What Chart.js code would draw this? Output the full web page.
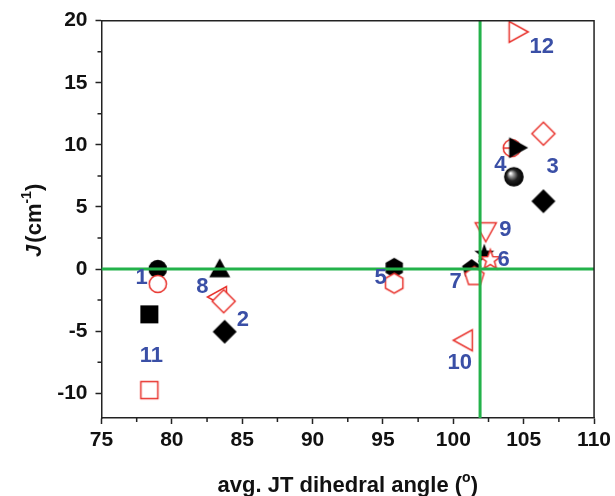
<!DOCTYPE html>
<html><head><meta charset="utf-8">
<script src="https://cdn.jsdelivr.net/npm/chart.js@4"></script>
<style>html,body{margin:0;padding:0;background:#fff}</style>
</head><body>
<canvas id="c" width="615" height="496" style="width:615px;height:496px;display:block"></canvas>
<script>
// ---- data ----
const xTicks = [75, 80, 85, 90, 95, 100, 105, 110];
const yTicks = [-10, -5, 0, 5, 10, 15, 20];
const xMinorTicks = [77.5, 82.5, 87.5, 92.5, 97.5, 102.5, 107.5];
const yMinorTicks = [-7.5, -2.5, 2.5, 7.5, 12.5, 17.5];

const blackIds   = ['1', '2', '3', '4', '4', '5', '6', '7', '8', '11'];
const blackX     = [79.0, 83.75, 106.4, 104.64, 104.3, 95.8, 102.2, 101.3, 83.4, 78.4];
const blackY     = [0.0, -5.05, 5.46, 9.77, 7.43, 0.1, 1.2, 0.0, 0.1, -3.65];
const blackShape = ['circle', 'diamond', 'diamond', 'triRight', 'ball', 'hexagon', 'star', 'pentagon', 'triUp', 'square'];

const redIds   = ['1', '2', '3', '4', '5', '6', '7', '8', '9', '10', '11', '12'];
const redX     = [79.0, 83.68, 106.4, 104.16, 95.8, 102.63, 101.5, 83.2, 102.3, 100.67, 78.4, 104.64];
const redY     = [-1.2, -2.6, 10.9, 9.74, -1.15, 0.72, -0.6, -2.25, 2.96, -5.74, -9.75, 19.1];
const redShape = ['circle', 'diamond', 'diamond', 'circlePlus', 'hexagon', 'star', 'pentagon', 'triLeft', 'triDown', 'triLeft', 'square', 'triRight'];

const labelText = ['1', '11', '8', '2', '5', '7', '6', '9', '10', '4', '3', '12'];
const labelX    = [77.85, 78.55, 82.17, 85.04, 94.84, 100.16, 103.58, 103.7, 100.45, 103.34, 107.05, 106.29];
const labelY    = [-0.72, -7.0, -1.43, -4.1, -0.72, -1.02, 0.72, 3.14, -7.6, 8.37, 8.24, 17.9];

const hLineX = [75, 110], hLineY = [0, 0];
const vLineX = [101.9, 101.9], vLineY = [-12, 20];

// ---- marker images ----
const RED = '#e8312b', BLACK = '#000', GREEN = '#23b24a', BLUE = '#3a4fa6';
function marker(shape, color, open) {
  const S = 30, c = document.createElement('canvas');
  c.width = S; c.height = S;
  const g = c.getContext('2d');
  g.translate(S / 2, S / 2);
  g.lineWidth = 1.5; g.strokeStyle = color; g.fillStyle = open ? '#fff' : color;
  g.lineJoin = 'miter';
  const poly = (pts) => { g.beginPath(); pts.forEach((p, i) => i ? g.lineTo(p[0], p[1]) : g.moveTo(p[0], p[1])); g.closePath(); };
  const reg = (n, r, rot) => { const pts = []; for (let i = 0; i < n; i++) { const a = rot + i * 2 * Math.PI / n; pts.push([r * Math.cos(a), r * Math.sin(a)]); } poly(pts); };
  switch (shape) {
    case 'circle': case 'circlePlus': g.beginPath(); g.arc(0, 0, open ? 8.6 : 9.3, 0, 2 * Math.PI); break;
    case 'square': { const h = open ? 8.5 : 9; poly([[-h, -h], [h, -h], [h, h], [-h, h]]); break; }
    case 'diamond': { const h = open ? 11.5 : 12; poly([[0, -h], [h, 0], [0, h], [-h, 0]]); break; }
    case 'triUp': poly([[0, -9.5], [10.5, 9.5], [-10.5, 9.5]]); break;
    case 'triDown': poly([[-10.5, -9.5], [10.5, -9.5], [0, 9.5]]); break;
    case 'triLeft': poly([[9.5, -10.5], [9.5, 10.5], [-9.5, 0]]); break;
    case 'triRight': poly([[-9.5, -10.5], [-9.5, 10.5], [9.5, 0]]); break;
    case 'hexagon': reg(6, 10, -Math.PI / 2); break;
    case 'pentagon': reg(5, 10, -Math.PI / 2); break;
    case 'star': { const pts = []; for (let i = 0; i < 10; i++) { const r = i % 2 ? 4.3 : 10.5; const a = -Math.PI / 2 + i * Math.PI / 5; pts.push([r * Math.cos(a), r * Math.sin(a)]); } poly(pts); break; }
    case 'ball': {
      const gr = g.createRadialGradient(-3.5, -3.5, 0.5, 0, 0, 9.8);
      gr.addColorStop(0, '#ffffff'); gr.addColorStop(0.22, '#9a9a9a'); gr.addColorStop(0.55, '#222'); gr.addColorStop(1, '#000');
      g.fillStyle = gr; g.beginPath(); g.arc(0, 0, 9.8, 0, 2 * Math.PI); g.fill(); return c;
    }
  }
  g.fill();
  if (open) g.stroke();
  if (shape === 'circlePlus') { g.beginPath(); g.moveTo(-8.6, 0); g.lineTo(8.6, 0); g.moveTo(0, -8.6); g.lineTo(0, 8.6); g.stroke(); }
  return c;
}

// ---- datasets ----
const datasets = [];
datasets.push({ type: 'line', data: hLineX.map((x, i) => ({ x, y: hLineY[i] })), borderColor: GREEN, borderWidth: 3, pointRadius: 0, showLine: true, order: 0 });
datasets.push({ type: 'line', data: vLineX.map((x, i) => ({ x, y: vLineY[i] })), borderColor: GREEN, borderWidth: 3, pointRadius: 0, showLine: true, order: 0 });
blackX.forEach((x, i) => {
  datasets.push({ type: 'scatter', data: [{ x, y: blackY[i] }], pointStyle: marker(blackShape[i], BLACK, false), pointRadius: 10, order: blackShape[i] === 'triRight' ? 1 : 3 });
});
redX.forEach((x, i) => {
  datasets.push({ type: 'scatter', data: [{ x, y: redY[i] }], pointStyle: marker(redShape[i], RED, true), pointRadius: 10, order: redShape[i] === 'triLeft' && i === 7 ? 2.5 : 2 });
});

const FONT = 'Liberation Sans, Arial, sans-serif';
const deco = {
  id: 'deco',
  afterDatasetsDraw(chart) {
    const { ctx, scales: { x, y } } = chart;
    ctx.save();
    ctx.fillStyle = BLUE; ctx.font = 'bold 22px ' + FONT; ctx.textAlign = 'center'; ctx.textBaseline = 'middle';
    labelText.forEach((t, i) => ctx.fillText(t, x.getPixelForValue(labelX[i]), y.getPixelForValue(labelY[i])));
    ctx.restore();
  },
  afterDraw(chart) {
    const { ctx, chartArea: a, scales: { x, y } } = chart;
    ctx.save();
    ctx.strokeStyle = '#222'; ctx.lineWidth = 1.5;
    ctx.beginPath(); ctx.moveTo(a.left, a.top); ctx.lineTo(a.right, a.top); ctx.lineTo(a.right, a.bottom); ctx.stroke();
    ctx.beginPath();
    xMinorTicks.forEach(v => { const px = x.getPixelForValue(v); ctx.moveTo(px, a.bottom); ctx.lineTo(px, a.bottom + 4); });
    yMinorTicks.forEach(v => { const py = y.getPixelForValue(v); ctx.moveTo(a.left, py); ctx.lineTo(a.left - 4, py); });
    ctx.stroke();
    // x title
    ctx.fillStyle = '#111'; ctx.textBaseline = 'alphabetic';
    const main = 'avg. JT dihedral angle (';
    ctx.font = 'bold 22px ' + FONT;
    const w1 = ctx.measureText(main).width;
    ctx.font = 'bold 14px ' + FONT; const w2 = ctx.measureText('o').width;
    ctx.font = 'bold 22px ' + FONT; const w3 = ctx.measureText(')').width;
    let cx = (a.left + a.right) / 2 - (w1 + w2 + w3) / 2, by = 492;
    ctx.textAlign = 'left';
    ctx.fillText(main, cx, by);
    ctx.font = 'bold 14px ' + FONT; ctx.fillText('o', cx + w1, by - 10);
    ctx.font = 'bold 22px ' + FONT; ctx.fillText(')', cx + w1 + w2, by);
    // y title
    ctx.translate(41, (a.top + a.bottom) / 2);
    ctx.rotate(-Math.PI / 2);
    const parts = [['J', 'italic bold 22px ', 0], ['(cm', 'bold 22px ', 0], ['-1', 'bold 14px ', -10], [')', 'bold 22px ', 0]];
    let tw = 0; parts.forEach(p => { ctx.font = p[1] + FONT; tw += ctx.measureText(p[0]).width; });
    let px = -tw / 2 - 2;
    parts.forEach(p => { ctx.font = p[1] + FONT; ctx.fillText(p[0], px, p[2]); px += ctx.measureText(p[0]).width + (p[0] === 'J' ? 2 : 0); });
    ctx.restore();
  }
};

new Chart(document.getElementById('c'), {
  type: 'scatter',
  data: { datasets },
  options: {
    responsive: false, animation: false, devicePixelRatio: 1,
    layout: { padding: { left: 0, right: 19.3, top: 20.7, bottom: 0 } },
    plugins: { legend: { display: false }, tooltip: { enabled: false } },
    scales: {
      x: {
        type: 'linear', min: 75, max: 110,
        afterBuildTicks: s => { s.ticks = xTicks.map(v => ({ value: v })); },
        afterFit: s => { s.height = 78; },
        grid: { drawOnChartArea: false, tickLength: 6, tickColor: '#222', tickWidth: 1.5 },
        border: { display: true, color: '#222', width: 1.5 },
        ticks: { color: '#111', font: { family: FONT, size: 21, weight: 'bold' }, padding: 4, maxRotation: 0 }
      },
      y: {
        type: 'linear', min: -12, max: 20,
        afterBuildTicks: s => { s.ticks = yTicks.map(v => ({ value: v })); },
        afterFit: s => { s.width = 101.5; },
        grid: { drawOnChartArea: false, tickLength: 6, tickColor: '#222', tickWidth: 1.5 },
        border: { display: true, color: '#222', width: 1.5 },
        ticks: { color: '#111', font: { family: FONT, size: 21, weight: 'bold' }, padding: 8 }
      }
    }
  },
  plugins: [deco]
});
</script>
</body></html>
